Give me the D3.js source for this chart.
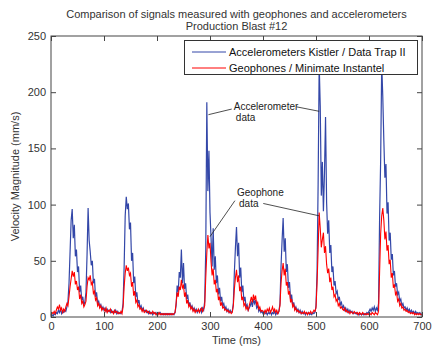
<!DOCTYPE html>
<html>
<head>
<meta charset="utf-8">
<script src="https://cdn.jsdelivr.net/npm/d3@7/dist/d3.min.js"></script>
<style>
body { margin: 0; background: #fff; }
text { font-family: "Liberation Sans", Arial, sans-serif; }
</style>
</head>
<body>
<div id="chart"></div>
<script>
// one sample every 2 ms, from 0 to 700 ms
var sampleStepMs = 2;

// accelerometer (Kistler / Data Trap II), mm/s
var accelValues = [
  1, 2, 1, 3, 2, 4, 3, 6, 4, 7, 3, 5, 4, 6, 5, 9, 14, 30, 58, 86, 96, 70, 82, 54, 60,
  40, 45, 22, 28, 15, 18, 10, 14, 22, 55, 97, 68, 58, 46, 50, 30, 34, 18, 22, 12, 14, 9, 11, 7, 9,
  6, 8, 5, 7, 5, 6, 4, 6, 4, 5, 4, 6, 3, 5, 3, 4, 3, 5, 12, 45, 90, 107, 96, 101, 78,
  84, 50, 57, 30, 36, 18, 22, 12, 15, 8, 10, 6, 8, 5, 6, 4, 5, 3, 5, 3, 4, 2, 4, 3, 4,
  2, 4, 3, 4, 2, 3, 2, 3, 2, 3, 2, 3, 2, 3, 2, 3, 2, 4, 10, 28, 22, 40, 35, 60, 30,
  48, 25, 30, 16, 20, 10, 13, 8, 10, 6, 8, 5, 7, 4, 6, 5, 7, 4, 8, 6, 14, 60, 191, 112, 148,
  93, 70, 45, 79, 42, 54, 30, 37, 20, 26, 14, 18, 10, 12, 7, 9, 5, 7, 4, 6, 4, 5, 12, 40, 62,
  80, 54, 66, 35, 44, 22, 28, 14, 18, 9, 11, 6, 8, 10, 14, 9, 16, 12, 15, 8, 10, 5, 7, 4, 5,
  3, 5, 3, 4, 2, 4, 3, 5, 2, 4, 3, 5, 2, 4, 3, 5, 12, 45, 68, 88, 58, 70, 40, 47, 26,
  31, 16, 20, 10, 13, 7, 9, 5, 7, 4, 6, 3, 5, 3, 4, 2, 4, 3, 4, 2, 3, 2, 4, 3, 4,
  10, 40, 118, 225, 188, 108, 138, 94, 128, 178, 102, 74, 86, 57, 64, 40, 45, 28, 32, 21, 23, 15, 18, 11, 13,
  8, 10, 6, 8, 5, 7, 4, 6, 4, 5, 3, 4, 3, 4, 2, 3, 2, 3, 2, 3, 2, 3, 2, 4, 3,
  5, 7, 5, 8, 6, 9, 5, 8, 6, 12, 88, 140, 225, 196, 157, 124, 136, 92, 102, 68, 75, 51, 56, 37, 41,
  27, 30, 20, 22, 14, 16, 10, 12, 8, 9, 6, 8, 5, 7, 4, 6, 4, 5, 3, 5, 3, 4, 3, 4, 2, 3
];

// geophone (Minimate Instantel), mm/s
var geoValues = [
  2, 4, 3, 5, 3, 6, 9, 7, 11, 6, 8, 4, 7, 5, 9, 12, 10, 18, 27, 34, 41, 36, 40, 29, 32,
  24, 27, 16, 20, 12, 14, 9, 11, 14, 27, 35, 33, 37, 29, 31, 21, 23, 15, 17, 10, 12, 8, 10, 6, 8,
  7, 5, 8, 4, 6, 5, 7, 4, 5, 3, 6, 4, 5, 3, 4, 3, 5, 3, 9, 27, 39, 46, 41, 44, 37,
  39, 27, 31, 19, 23, 13, 15, 9, 11, 7, 8, 5, 7, 4, 5, 6, 4, 5, 3, 4, 3, 5, 3, 4, 2,
  3, 2, 4, 2, 3, 2, 3, 2, 3, 2, 3, 2, 3, 2, 3, 2, 3, 4, 12, 22, 18, 27, 24, 33, 26,
  28, 18, 22, 12, 15, 9, 11, 7, 9, 5, 7, 4, 6, 5, 7, 4, 6, 8, 5, 7, 10, 35, 57, 73, 61,
  66, 49, 37, 43, 29, 33, 22, 25, 15, 18, 10, 13, 8, 9, 6, 7, 5, 6, 4, 5, 3, 4, 10, 25, 35,
  42, 31, 37, 23, 27, 15, 18, 10, 12, 7, 9, 6, 10, 14, 18, 13, 20, 15, 19, 11, 13, 7, 9, 5, 6,
  5, 3, 6, 4, 7, 5, 8, 4, 6, 9, 5, 7, 4, 6, 3, 5, 10, 30, 41, 48, 37, 43, 28, 31, 20,
  23, 13, 16, 9, 11, 6, 8, 5, 6, 4, 5, 3, 4, 3, 5, 3, 4, 2, 4, 3, 5, 3, 4, 6, 5,
  8, 30, 60, 93, 79, 62, 69, 75, 57, 63, 47, 39, 43, 31, 35, 24, 27, 18, 20, 14, 16, 10, 12, 8, 9,
  7, 6, 8, 5, 6, 4, 5, 3, 5, 4, 3, 5, 4, 3, 4, 2, 4, 3, 2, 4, 3, 2, 3, 2, 3,
  2, 3, 2, 4, 3, 2, 4, 3, 2, 5, 40, 74, 90, 97, 86, 69, 76, 59, 64, 47, 51, 35, 39, 26, 29,
  20, 22, 14, 16, 10, 12, 8, 9, 6, 7, 5, 6, 4, 5, 3, 4, 3, 4, 2, 3, 2, 3, 2, 3, 2, 2
];

var xTicks = [0, 100, 200, 300, 400, 500, 600, 700];
var yTicks = [0, 50, 100, 150, 200, 250];
var seriesNames = ["Accelerometers Kistler / Data Trap II", "Geophones / Minimate Instantel"];
var seriesColors = ["#3347a8", "#ff0000"];
var titleLines = ["Comparison of signals measured with geophones and accelerometers", "Production Blast #12"];

function init()
{
    var w = 442;
    var h = 353;
    var left = 51, right = 422, top = 36, bottom = 317;
    var textColor = "#333";

    var xScale = d3.scaleLinear()
        .domain([0, 700])
        .range([left, right]);

    var yScale = d3.scaleLinear()
        .domain([0, 250])
        .range([bottom, top]);

    var line = d3.line()
        .x(function(d, i) { return xScale(i * sampleStepMs); })
        .y(function(d) { return yScale(d); });

    var svg = d3.select("#chart")
        .append("svg")
        .attr("width", w)
        .attr("height", h);

    svg.append("rect")
        .attr("width", w)
        .attr("height", h)
        .attr("fill", "#fff");

    // signals: accelerometer first, geophone drawn over it
    svg.append("path")
        .datum(accelValues)
        .attr("d", line)
        .attr("fill", "none")
        .attr("stroke", seriesColors[0])
        .attr("stroke-width", 1.2);

    svg.append("path")
        .datum(geoValues)
        .attr("d", line)
        .attr("fill", "none")
        .attr("stroke", seriesColors[1])
        .attr("stroke-width", 1.1);

    // axes, ticks pointing inward on all four sides
    var xAxis = d3.axisBottom(xScale).tickValues(xTicks).tickSize(-5).tickPadding(5);
    var xAxisTop = d3.axisTop(xScale).tickValues(xTicks).tickSize(-5).tickFormat("");
    var yAxis = d3.axisLeft(yScale).tickValues(yTicks).tickSize(-5).tickPadding(5);
    var yAxisRight = d3.axisRight(yScale).tickValues(yTicks).tickSize(-5).tickFormat("");

    var axes = [
        svg.append("g").attr("transform", "translate(0," + bottom + ")").call(xAxis),
        svg.append("g").attr("transform", "translate(0," + top + ")").call(xAxisTop),
        svg.append("g").attr("transform", "translate(" + left + ",0)").call(yAxis),
        svg.append("g").attr("transform", "translate(" + right + ",0)").call(yAxisRight)
    ];
    axes.forEach(function(g) {
        g.select(".domain").remove();
        g.selectAll("line").attr("stroke", "#444");
        g.selectAll("text")
            .attr("fill", textColor)
            .style("font-family", "Liberation Sans, Arial, sans-serif")
            .style("font-size", "11px");
    });

    svg.append("rect")
        .attr("x", left)
        .attr("y", top)
        .attr("width", right - left)
        .attr("height", bottom - top)
        .attr("fill", "none")
        .attr("stroke", "#444")
        .attr("stroke-width", 1);

    // titles
    svg.selectAll(".title")
        .data(titleLines)
        .enter().append("text")
        .attr("class", "title")
        .attr("x", (left + right) / 2)
        .attr("y", function(d, i) { return 18 + i * 12; })
        .attr("text-anchor", "middle")
        .attr("fill", textColor)
        .style("font-size", "11px")
        .text(function(d) { return d; });

    svg.append("text")
        .attr("x", (left + right) / 2)
        .attr("y", 344)
        .attr("text-anchor", "middle")
        .attr("fill", textColor)
        .style("font-size", "11px")
        .text("Time (ms)");

    svg.append("text")
        .attr("transform", "translate(19," + (top + bottom) / 2 + ") rotate(-90)")
        .attr("text-anchor", "middle")
        .attr("fill", textColor)
        .style("font-size", "11px")
        .text("Velocity Magnitude (mm/s)");

    // legend
    var legend = svg.append("g");
    legend.append("rect")
        .attr("x", 184.5)
        .attr("y", 40.5)
        .attr("width", 233)
        .attr("height", 34)
        .attr("fill", "#fff")
        .attr("stroke", "#333");

    seriesNames.forEach(function(name, i) {
        var ly = 52 + i * 16;
        legend.append("line")
            .attr("x1", 192).attr("x2", 226)
            .attr("y1", ly).attr("y2", ly)
            .attr("stroke", seriesColors[i]);
        legend.append("text")
            .attr("x", 229)
            .attr("y", ly + 4)
            .attr("fill", "#111")
            .style("font-size", "11px")
            .text(name);
    });

    // text arrows, anchored in data units (ms, mm/s)
    var notes = [
        { lines: ["Accelerometer", "data"], x: 345, y: 188,
          arrows: [[341, 185, 297, 180], [463, 187, 506, 183]] },
        { lines: ["Geophone", "data"], x: 351, y: 111,
          arrows: [[347, 103.5, 300, 71.5], [400.5, 101, 506, 90]] }
    ];

    notes.forEach(function(n) {
        n.arrows.forEach(function(a) {
            svg.append("line")
                .attr("x1", xScale(a[0])).attr("y1", yScale(a[1]))
                .attr("x2", xScale(a[2])).attr("y2", yScale(a[3]))
                .attr("stroke", "#222")
                .attr("stroke-width", 0.8);
        });
        n.lines.forEach(function(t, i) {
            svg.append("text")
                .attr("x", xScale(n.x) + (i ? 2 : 0))
                .attr("y", yScale(n.y) + 4 + i * 11)
                .attr("fill", "#222")
                .style("font-size", "10px")
                .text(t);
        });
    });
}

window.onload = init;
</script>
</body>
</html>
